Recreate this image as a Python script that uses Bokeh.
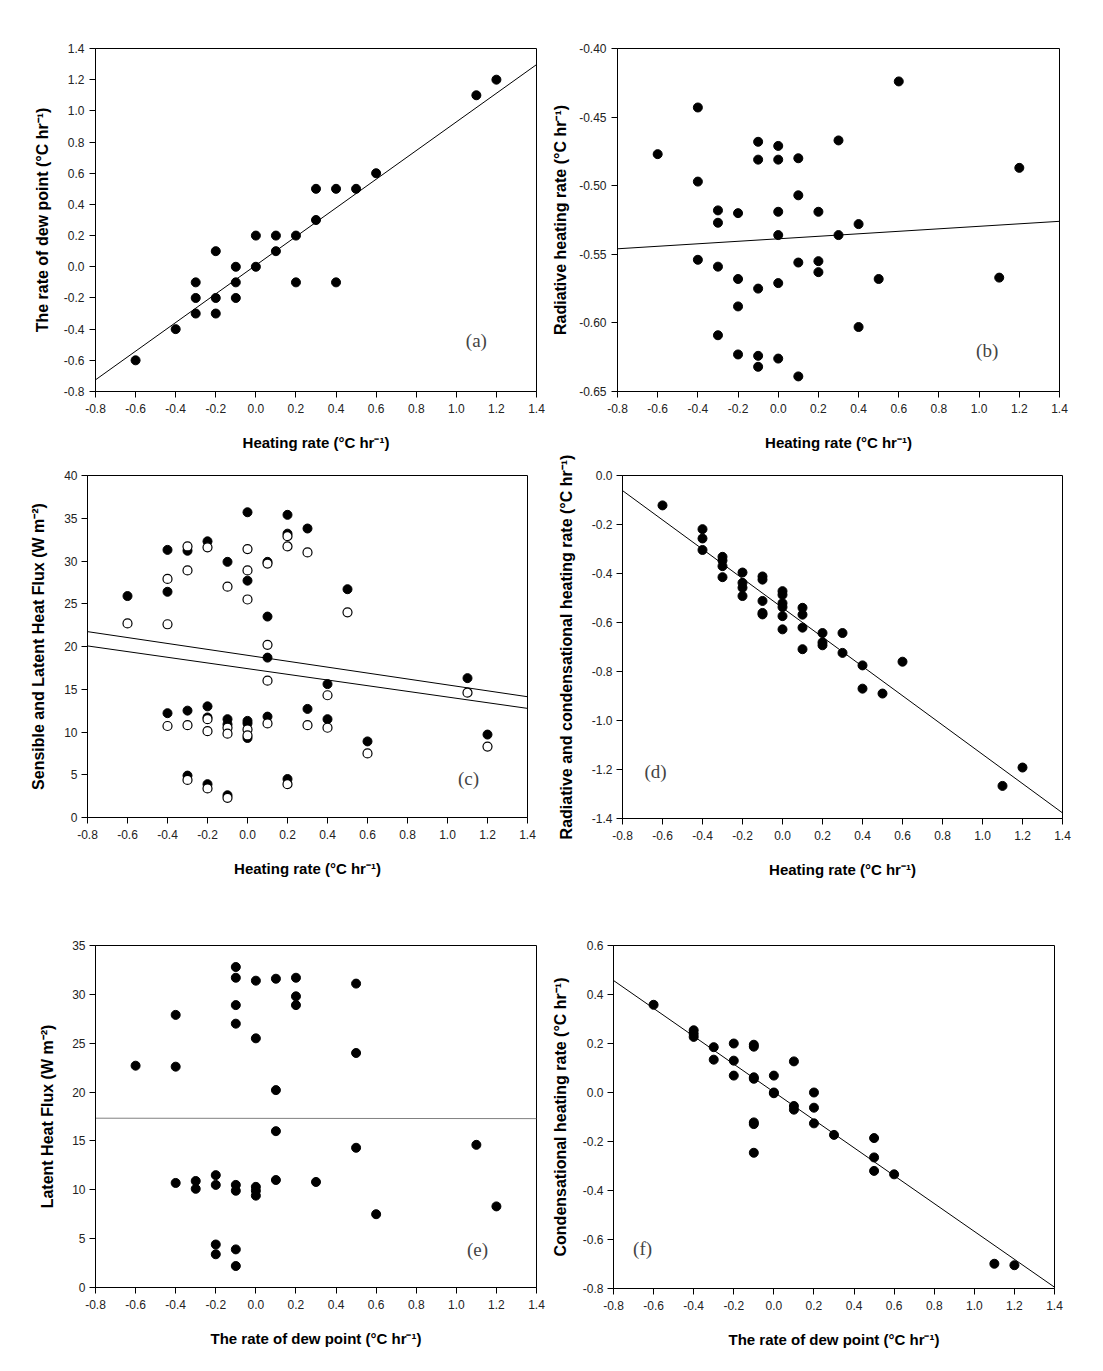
from bokeh.plotting import figure
from bokeh.layouts import column, row
from bokeh.models import Range1d, FixedTicker, Label
from bokeh.embed import file_html
from bokeh.resources import INLINE

# ---------------- data ----------------
heat_ticks = [-0.8, -0.6, -0.4, -0.2, 0.0, 0.2, 0.4, 0.6, 0.8, 1.0, 1.2, 1.4]
heat_tick_labels = ["-0.8", "-0.6", "-0.4", "-0.2", "0.0", "0.2", "0.4", "0.6", "0.8", "1.0", "1.2", "1.4"]

# (a) dew point rate vs heating rate
a_x = [-0.6, -0.4, -0.3, -0.3, -0.3, -0.2, -0.2, -0.2, -0.1, -0.1, -0.1, 0.0, 0.0,
       0.1, 0.1, 0.2, 0.2, 0.3, 0.3, 0.4, 0.4, 0.5, 0.6, 1.1, 1.2]
a_y = [-0.6, -0.4, -0.1, -0.2, -0.3, 0.1, -0.2, -0.3, 0.0, -0.1, -0.2, 0.2, 0.0,
       0.2, 0.1, 0.2, -0.1, 0.5, 0.3, 0.5, -0.1, 0.5, 0.6, 1.1, 1.2]
a_fit = (0.010, 0.919)  # intercept, slope
a_yticks = [-0.8, -0.6, -0.4, -0.2, 0.0, 0.2, 0.4, 0.6, 0.8, 1.0, 1.2, 1.4]
a_ytick_labels = ["-0.8", "-0.6", "-0.4", "-0.2", "0.0", "0.2", "0.4", "0.6", "0.8", "1.0", "1.2", "1.4"]

# (b) radiative heating rate vs heating rate
b_x = [-0.6, -0.4, -0.4, -0.4, -0.3, -0.3, -0.3, -0.3, -0.2, -0.2, -0.2, -0.2,
       -0.1, -0.1, -0.1, -0.1, -0.1, 0.0, 0.0, 0.0, 0.0, 0.0, 0.0,
       0.1, 0.1, 0.1, 0.1, 0.2, 0.2, 0.2, 0.3, 0.3, 0.4, 0.4, 0.5, 0.6, 1.1, 1.2]
b_y = [-0.477, -0.443, -0.497, -0.554, -0.518, -0.527, -0.559, -0.609, -0.520, -0.568, -0.588, -0.623,
       -0.468, -0.481, -0.575, -0.624, -0.632, -0.471, -0.481, -0.519, -0.536, -0.571, -0.626,
       -0.480, -0.507, -0.556, -0.639, -0.519, -0.555, -0.563, -0.467, -0.536, -0.528, -0.603,
       -0.568, -0.424, -0.567, -0.487]
b_fit = (-0.5387, 0.0091)
b_yticks = [-0.65, -0.60, -0.55, -0.50, -0.45, -0.40]
b_ytick_labels = ["-0.65", "-0.60", "-0.55", "-0.50", "-0.45", "-0.40"]

# (c) sensible (filled) and latent (open) heat flux vs heating rate
c_sens_x = [-0.6, -0.4, -0.4, -0.4, -0.3, -0.3, -0.3, -0.2, -0.2, -0.2, -0.2,
            -0.1, -0.1, -0.1, -0.1, 0.0, 0.0, 0.0, 0.0, 0.0, 0.1, 0.1, 0.1, 0.1,
            0.2, 0.2, 0.2, 0.3, 0.3, 0.4, 0.4, 0.5, 0.6, 1.1, 1.2]
c_sens_y = [25.9, 31.3, 26.4, 12.2, 31.2, 12.5, 4.9, 32.3, 13.0, 11.7, 3.9,
            29.9, 11.5, 10.9, 2.6, 35.7, 27.7, 11.3, 11.0, 9.3, 29.9, 23.5, 18.7, 11.8,
            35.4, 33.2, 4.5, 33.8, 12.7, 15.6, 11.5, 26.7, 8.9, 16.3, 9.7]
c_lat_x = [-0.6, -0.4, -0.4, -0.4, -0.3, -0.3, -0.3, -0.3, -0.2, -0.2, -0.2, -0.2,
           -0.1, -0.1, -0.1, -0.1, 0.0, 0.0, 0.0, 0.0, 0.0, 0.1, 0.1, 0.1, 0.1,
           0.2, 0.2, 0.2, 0.3, 0.3, 0.4, 0.4, 0.5, 0.6, 1.1, 1.2]
c_lat_y = [22.7, 27.9, 22.6, 10.7, 31.7, 28.9, 10.8, 4.4, 31.6, 11.5, 10.1, 3.4,
           27.0, 10.5, 9.8, 2.3, 31.4, 28.9, 25.5, 10.3, 9.6, 29.7, 20.2, 16.0, 11.0,
           32.9, 31.7, 3.9, 31.0, 10.8, 14.3, 10.5, 24.0, 7.5, 14.6, 8.3]
c_sens_fit = (18.97, -3.46)
c_lat_fit = (17.41, -3.32)
c_yticks = [0, 5, 10, 15, 20, 25, 30, 35, 40]
c_ytick_labels = ["0", "5", "10", "15", "20", "25", "30", "35", "40"]

# (d) radiative + condensational heating rate vs heating rate
d_x = [-0.6, -0.4, -0.4, -0.4, -0.3, -0.3, -0.3, -0.3, -0.2, -0.2, -0.2, -0.2,
       -0.1, -0.1, -0.1, -0.1, -0.1, 0.0, 0.0, 0.0, 0.0, 0.0, 0.0,
       0.1, 0.1, 0.1, 0.1, 0.2, 0.2, 0.2, 0.3, 0.3, 0.4, 0.4, 0.5, 0.6, 1.1, 1.2]
d_y = [-0.122, -0.219, -0.257, -0.304, -0.332, -0.347, -0.370, -0.415, -0.396, -0.438, -0.458, -0.492,
       -0.412, -0.425, -0.512, -0.561, -0.567, -0.472, -0.487, -0.521, -0.537, -0.574, -0.628,
       -0.540, -0.568, -0.621, -0.709, -0.643, -0.681, -0.693, -0.643, -0.724, -0.775, -0.870,
       -0.890, -0.760, -1.267, -1.192]
d_fit = (-0.540, -0.598)
d_yticks = [-1.4, -1.2, -1.0, -0.8, -0.6, -0.4, -0.2, 0.0]
d_ytick_labels = ["-1.4", "-1.2", "-1.0", "-0.8", "-0.6", "-0.4", "-0.2", "0.0"]

# (e) latent heat flux vs dew point rate
e_x = [-0.6, -0.4, -0.4, -0.4, -0.3, -0.3, -0.2, -0.2, -0.2, -0.2,
       -0.1, -0.1, -0.1, -0.1, -0.1, -0.1, -0.1, -0.1, 0.0, 0.0, 0.0, 0.0, 0.0,
       0.1, 0.1, 0.1, 0.1, 0.2, 0.2, 0.2, 0.3, 0.5, 0.5, 0.5, 0.6, 1.1, 1.2]
e_y = [22.7, 27.9, 22.6, 10.7, 10.9, 10.1, 11.5, 10.5, 4.4, 3.4,
       32.8, 31.7, 28.9, 27.0, 10.5, 9.9, 3.9, 2.2, 31.4, 25.5, 10.3, 9.9, 9.4,
       31.6, 20.2, 16.0, 11.0, 31.7, 29.8, 28.9, 10.8, 31.1, 24.0, 14.3, 7.5, 14.6, 8.3]
e_fit = (17.31, -0.02)
e_yticks = [0, 5, 10, 15, 20, 25, 30, 35]
e_ytick_labels = ["0", "5", "10", "15", "20", "25", "30", "35"]

# (f) condensational heating rate vs dew point rate
f_x = [-0.6, -0.4, -0.4, -0.4, -0.3, -0.3, -0.2, -0.2, -0.2,
       -0.1, -0.1, -0.1, -0.1, -0.1, -0.1, -0.1, 0.0, 0.0, 0.0,
       0.1, 0.1, 0.1, 0.2, 0.2, 0.2, 0.3, 0.5, 0.5, 0.5, 0.6, 1.1, 1.2]
f_y = [0.358, 0.254, 0.240, 0.227, 0.185, 0.134, 0.200, 0.130, 0.069,
       0.195, 0.187, 0.062, 0.056, -0.122, -0.129, -0.246, 0.069, 0.000, -0.003,
       0.127, -0.055, -0.070, 0.000, -0.062, -0.126, -0.173, -0.186, -0.265, -0.320,
       -0.334, -0.699, -0.705]
f_fit = (0.002, -0.569)
f_yticks = [-0.8, -0.6, -0.4, -0.2, 0.0, 0.2, 0.4, 0.6]
f_ytick_labels = ["-0.8", "-0.6", "-0.4", "-0.2", "0.0", "0.2", "0.4", "0.6"]

heat_label = "Heating rate (\u00b0C hr\u207b\u00b9)"
dew_label = "The rate of dew point (\u00b0C hr\u207b\u00b9)"

SANS = "Liberation Sans"
SERIF = "Liberation Serif"


def make_fig(yticks, ytick_labels, xlabel, ylabel, fw, fh, left, right, top, bottom,
             ylab_standoff, ylab_tick_standoff=5):
    p = figure(frame_width=fw, frame_height=fh,
               x_range=Range1d(heat_ticks[0], heat_ticks[-1]),
               y_range=Range1d(yticks[0], yticks[-1]),
               min_border_left=left, min_border_right=right,
               min_border_top=top, min_border_bottom=bottom,
               toolbar_location=None, output_backend="svg", title=None)
    p.xgrid.visible = False
    p.ygrid.visible = False
    p.outline_line_color = "black"
    p.outline_line_alpha = 1.0
    p.outline_line_width = 1
    p.background_fill_color = "white"
    p.border_fill_color = "white"

    xa = p.xaxis[0]
    xa.ticker = FixedTicker(ticks=heat_ticks)
    xa.major_label_overrides = dict(zip(heat_ticks, heat_tick_labels))
    xa.axis_label = xlabel
    xa.axis_label_standoff = 18
    xa.major_label_standoff = 6

    ya = p.yaxis[0]
    ya.ticker = FixedTicker(ticks=yticks)
    ya.major_label_overrides = dict(zip(yticks, ytick_labels))
    ya.axis_label = ylabel
    ya.axis_label_standoff = ylab_standoff
    ya.major_label_standoff = ylab_tick_standoff

    for ax in (xa, ya):
        ax.minor_tick_line_color = None
        ax.major_tick_out = 6
        ax.major_tick_in = 0
        ax.major_tick_line_color = "black"
        ax.axis_line_color = "black"
        ax.major_label_text_font = SANS
        ax.major_label_text_font_size = "12px"
        ax.major_label_text_color = "#222222"
        ax.axis_label_text_font = SANS
        ax.axis_label_text_font_style = "bold"
        ax.axis_label_text_color = "black"
    xa.axis_label_text_font_size = "15px"
    ya.axis_label_text_font_size = "16px"
    return p


def fit_line(p, fit, color="black"):
    xs = [heat_ticks[0], heat_ticks[-1]]
    ys = [fit[0] + fit[1] * x for x in xs]
    p.line(xs, ys, line_color=color, line_width=1)


def panel_label(p, text, x, y):
    p.add_layout(Label(x=x, y=y, text=text, text_font=SERIF, text_font_size="19px",
                       text_color="#444444", text_align="center", text_baseline="middle"))


# (a)
pa = make_fig(a_yticks, a_ytick_labels, heat_label, dew_label,
              441, 343, 95, 12, 45, 67, 10)
fit_line(pa, a_fit)
pa.scatter(a_x, a_y, size=9, fill_color="black", line_color="black")
panel_label(pa, "(a)", 1.10, -0.47)

# (b)
pb = make_fig(b_yticks, b_ytick_labels, heat_label, "Radiative heating rate (\u00b0C hr\u207b\u00b9)",
              442, 343, 69, 40, 48, 64, 7)
fit_line(pb, b_fit)
pb.scatter(b_x, b_y, size=9, fill_color="black", line_color="black")
panel_label(pb, "(b)", 1.04, -0.620)

# (c)
pc = make_fig(c_yticks, c_ytick_labels, heat_label, "Sensible and Latent Heat Flux (W m\u207b\u00b2)",
              440, 342, 87, 14, 12, 91, 14, 4)
fit_line(pc, c_sens_fit)
fit_line(pc, c_lat_fit)
pc.scatter(c_sens_x, c_sens_y, size=9, fill_color="black", line_color="black")
pc.scatter(c_lat_x, c_lat_y, size=9, fill_color="white", line_color="black", line_width=1.2)
panel_label(pc, "(c)", 1.105, 4.6)

# (d)
pd_ = make_fig(d_yticks, d_ytick_labels, heat_label,
               "Radiative and condensational heating rate (\u00b0C hr\u207b\u00b9)",
               440, 343, 81, 30, 20, 82, 14, 4)
fit_line(pd_, d_fit)
pd_.scatter(d_x, d_y, size=9, fill_color="black", line_color="black")
panel_label(pd_, "(d)", -0.635, -1.21)

# (e)
pe = make_fig(e_yticks, e_ytick_labels, dew_label, "Latent Heat Flux (W m\u207b\u00b2)",
              441, 342, 95, 12, 45, 81, 13, 4)
fit_line(pe, e_fit, color="#808080")
pe.scatter(e_x, e_y, size=9, fill_color="black", line_color="black")
panel_label(pe, "(e)", 1.106, 3.9)

# (f)
pf = make_fig(f_yticks, f_ytick_labels, dew_label, "Condensational heating rate (\u00b0C hr\u207b\u00b9)",
              441, 343, 64, 40, 44, 81, 11, 4)
fit_line(pf, f_fit)
pf.scatter(f_x, f_y, size=9, fill_color="black", line_color="black")
panel_label(pf, "(f)", -0.655, -0.635)

layout = column(row(pa, pb), row(pc, pd_), row(pe, pf))

open("out.html", "w").write(file_html(layout, INLINE))
